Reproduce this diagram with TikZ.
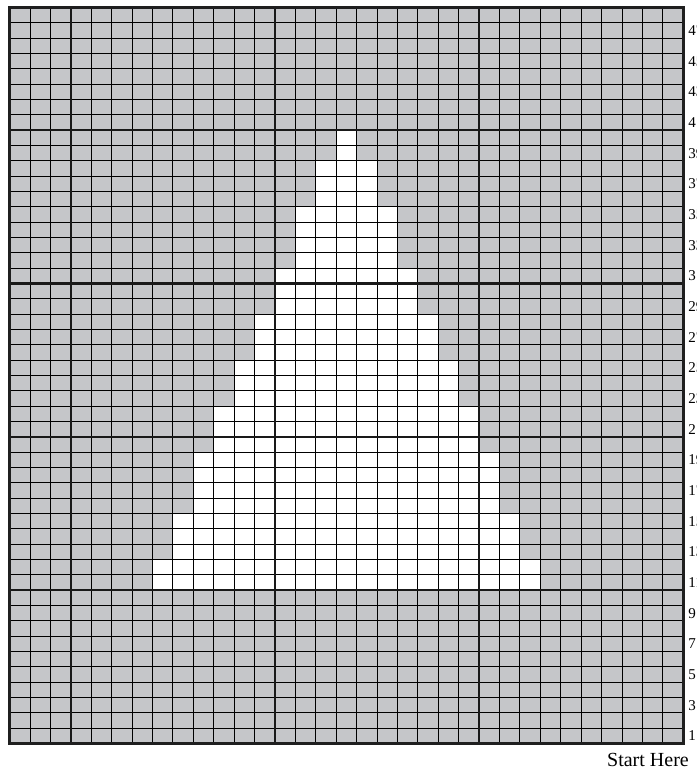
\documentclass[tikz,border=0pt]{standalone}
\usepackage{fontspec}
\setmainfont{Liberation Serif}
\definecolor{cellgray}{RGB}{197,198,201}
\tikzset{
  thinline/.style={draw=black,line width=1pt},
  tenline/.style={draw=black!90,line width=2.1pt},
  frameline/.style={draw=black!88,line width=3.2pt},
  rowlabel/.style={anchor=west,inner sep=0pt,font=\fontsize{15}{15}\selectfont},
  startlabel/.style={anchor=base east,inner sep=0pt,font=\fontsize{20}{20}\selectfont}
}
\begin{document}
\begin{tikzpicture}[x=1pt,y=-1pt]
\useasboundingbox (0,0) rectangle (696,770);
\begin{scope}[shift={(9.7pt,-7.5pt)},x=20.41pt,y=-15.333pt]
  % background
  \fill[cellgray] (0,0) rectangle (33,48);
  % white tree: rows top..bottom, cols from..to
  \foreach \ra/\rb/\ca/\cb in {40/39/17/17,38/36/16/18,35/32/15/19,31/29/14/20,28/26/13/21,25/23/12/22,22/20/11/23,19/16/10/24,15/13/9/25,12/11/8/26}{
    \fill[white] ({\ca-1},{48-\ra}) rectangle (\cb,{49-\rb});
  }
  % thin grid
  \foreach \c in {1,...,32}{\draw[thinline] (\c,0) -- (\c,48);}
  \foreach \r in {1,...,47}{\draw[thinline] (0,\r) -- (33,\r);}
  % every ten
  \foreach \c in {3,13,23}{\draw[tenline] (\c,0) -- (\c,48);}
  \foreach \r in {8,18,28,38}{\draw[tenline] (0,\r) -- (33,\r);}
  % frame
  \draw[frameline] (0,0) rectangle (33,48);
  % row numbers
  \foreach \n in {1,3,...,47}{
    \node[rowlabel] (row\n) at ([xshift=5pt]33,{48.5-\n}) {\n};
  }
\end{scope}
\node[startlabel] (start) at (689,766) {Start Here};
\end{tikzpicture}
\end{document}
